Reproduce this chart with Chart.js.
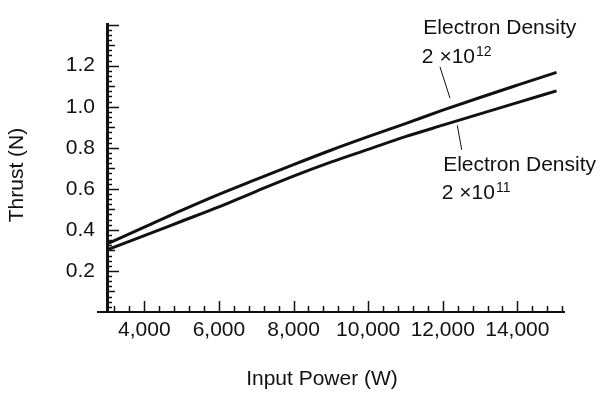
<!DOCTYPE html>
<html><head><meta charset="utf-8">
<script src="https://cdn.jsdelivr.net/npm/chart.js@4.4.1/dist/chart.umd.min.js"></script>
<style>html,body{margin:0;padding:0;background:#fff;overflow:hidden}#wrap{width:600px;height:408px}</style>
</head><body><div id="wrap"><canvas id="c" width="600" height="408"></canvas></div>
<script>
// ---- data ----
const powerW      = [3000, 4000, 5000, 6000, 7000, 8000, 9000, 10000, 11000, 12000, 13000, 14000, 15050];
const thrustHigh  = [0.332, 0.413, 0.495, 0.573, 0.646, 0.718, 0.788, 0.854, 0.918, 0.983, 1.045, 1.105, 1.167]; // 2x10^12
const thrustLow   = [0.303, 0.372, 0.442, 0.512, 0.588, 0.662, 0.730, 0.792, 0.854, 0.910, 0.965, 1.020, 1.077]; // 2x10^11
const xTickValues = [4000, 6000, 8000, 10000, 12000, 14000];
const yTickValues = [0.2, 0.4, 0.6, 0.8, 1.0, 1.2];
const seriesNames = ['Electron Density 2\u00d710\u00b9\u00b2', 'Electron Density 2\u00d710\u00b9\u00b9'];
const xTitle = 'Input Power (W)';
const yTitle = 'Thrust (N)';
const labelLine1 = 'Electron Density';
const labelMantissa = '2 \u00d710';
const labelExpHigh = '12';
const labelExpLow = '11';

const FONT = "'Liberation Sans', Arial, Helvetica, sans-serif";
const INK = '#111';

const annot = {
  high: {text: {x: 11480, y: 1.352}, text2: {x: 11440, y: 1.212}, leadFrom: {x: 11926, y: 1.194}, leadTo: {x: 12194, y: 1.042}, exp: labelExpHigh},
  low:  {text: {x: 12010, y: 0.688}, text2: {x: 11975, y: 0.551}, leadFrom: {x: 12390, y: 0.909}, leadTo: {x: 12508, y: 0.790}, exp: labelExpLow}
};

const decor = {
  id: 'decor',
  afterDraw(chart) {
    const {ctx, chartArea: a, scales: {x, y}} = chart;
    ctx.save();
    ctx.strokeStyle = INK; ctx.fillStyle = INK;
    // small overhang of the x axis to the left of the y axis
    ctx.lineWidth = 2;
    ctx.beginPath(); ctx.moveTo(a.left - 10, a.bottom); ctx.lineTo(a.left, a.bottom); ctx.stroke();
    // inward tick marks
    ctx.lineWidth = 1.5;
    for (let i = 1; i <= 56; i++) {
      const py = Math.round(y.getPixelForValue(i * 0.025)) + 0.5;
      const len = i % 8 === 0 ? 12 : (i % 4 === 0 ? 8 : 5);
      ctx.beginPath(); ctx.moveTo(a.left, py); ctx.lineTo(a.left + len, py); ctx.stroke();
    }
    for (let v = 3200; v <= x.max; v += 400) {
      const px = Math.round(x.getPixelForValue(v)) + 0.5;
      const len = v % 2000 === 0 ? 11 : 6;
      ctx.beginPath(); ctx.moveTo(px, a.bottom); ctx.lineTo(px, a.bottom - len); ctx.stroke();
    }
    // annotations
    ctx.lineWidth = 1;
    for (const k of ['high', 'low']) {
      const an = annot[k];
      ctx.beginPath();
      ctx.moveTo(x.getPixelForValue(an.leadFrom.x), y.getPixelForValue(an.leadFrom.y));
      ctx.lineTo(x.getPixelForValue(an.leadTo.x), y.getPixelForValue(an.leadTo.y));
      ctx.stroke();
      ctx.textAlign = 'left'; ctx.textBaseline = 'alphabetic';
      ctx.font = '21px ' + FONT;
      ctx.fillText(labelLine1, x.getPixelForValue(an.text.x), y.getPixelForValue(an.text.y));
      const tx = x.getPixelForValue(an.text2.x), ty = y.getPixelForValue(an.text2.y);
      ctx.fillText(labelMantissa, tx, ty);
      const w = ctx.measureText(labelMantissa).width;
      ctx.font = '14px ' + FONT;
      ctx.fillText(an.exp, tx + w + 1, ty - 7);
    }
    // axis titles
    ctx.font = '21px ' + FONT;
    ctx.textAlign = 'center'; ctx.textBaseline = 'middle';
    ctx.fillText(xTitle, 322, 379);
    ctx.translate(17, 175); ctx.rotate(-Math.PI / 2);
    ctx.fillText(yTitle, 0, 0);
    ctx.restore();
  }
};

new Chart(document.getElementById('c'), {
  type: 'line',
  data: {
    datasets: [
      {label: seriesNames[0], data: powerW.map((p, i) => ({x: p, y: thrustHigh[i]})), borderColor: INK, borderWidth: 3, pointRadius: 0, cubicInterpolationMode: 'monotone', fill: false},
      {label: seriesNames[1], data: powerW.map((p, i) => ({x: p, y: thrustLow[i]})),  borderColor: INK, borderWidth: 3, pointRadius: 0, cubicInterpolationMode: 'monotone', fill: false}
    ]
  },
  options: {
    responsive: false, animation: false, devicePixelRatio: 1,
    layout: {padding: {top: 19, right: 36, left: 0, bottom: 0}},
    plugins: {legend: {display: false}, tooltip: {enabled: false}},
    scales: {
      x: {
        type: 'linear', min: 3000, max: 15250,
        afterBuildTicks: s => { s.ticks = xTickValues.map(v => ({value: v})); },
        afterFit: s => { s.height = 96; },
        ticks: {color: INK, font: {family: FONT, size: 21}, padding: 6, maxRotation: 0, autoSkip: false,
                callback: v => Number(v).toLocaleString('en-US')},
        grid: {display: false, drawTicks: false, tickLength: 0},
        border: {display: true, color: INK, width: 2}
      },
      y: {
        type: 'linear', min: 0, max: 1.4,
        afterBuildTicks: s => { s.ticks = yTickValues.map(v => ({value: v})); },
        afterFit: s => { s.width = 107; },
        ticks: {color: INK, font: {family: FONT, size: 21}, padding: 12, autoSkip: false,
                callback: v => Number(v).toFixed(1)},
        grid: {display: false, drawTicks: false, tickLength: 0},
        border: {display: true, color: INK, width: 3}
      }
    }
  },
  plugins: [decor]
});
</script></body></html>
